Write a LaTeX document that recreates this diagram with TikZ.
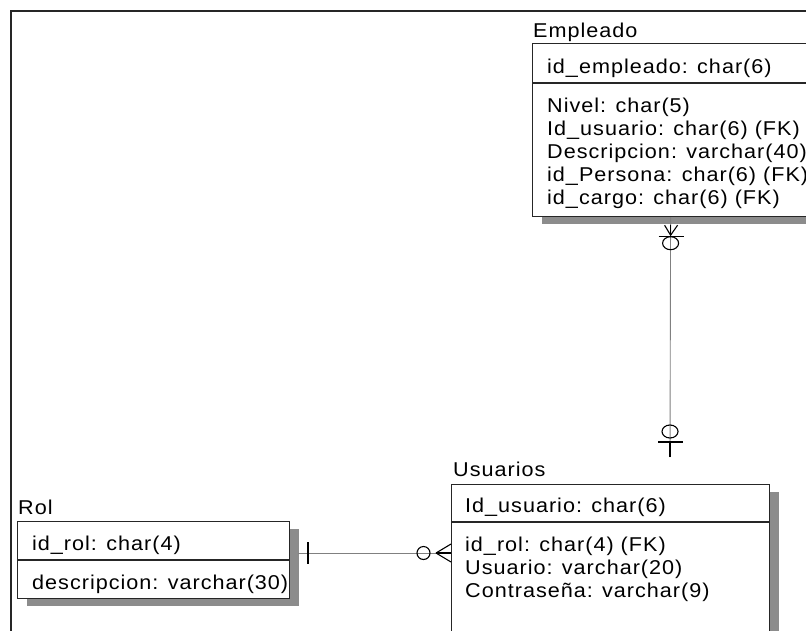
\documentclass[tikz,border=0pt]{standalone}
\usepackage{fontspec}
\setmainfont{Liberation Sans}[FakeStretch=1.08,LetterSpace=5]
\usetikzlibrary{shadows,calc}
\begin{document}
\begin{tikzpicture}[x=1pt,y=-1pt,
  frameline/.style={draw=black!85, line width=1.6pt},
  entity/.style={draw=black!85, line width=1.2pt, fill=white, inner sep=0pt,
    anchor=north west,
    general shadow={shadow xshift=9pt, shadow yshift=-7pt, fill=black!45}},
  divider/.style={draw=black!85, line width=1.2pt},
  txt/.style={anchor=base west, inner sep=0pt, font=\fontsize{20}{23}\selectfont},
  rel/.style={draw=black!50, line width=0.9pt},
  card/.style={draw=black, line width=1.1pt}]
\useasboundingbox (0,0) rectangle (806,630);
\fill[white] (0,0) rectangle (806,630);
\clip (0,0) rectangle (806,630);

% outer frame of the model page
\draw[frameline] (11,650) -- (11,11) -- (830,11);

% ---------------- Empleado ----------------
\node[txt] (empT) at (533,37) {Empleado};
\node[entity, minimum width=276pt, minimum height=173pt] (emp) at (532,43) {};
\coordinate (empDiv) at (0,83);
\draw[divider] (emp.west |- empDiv) -- (emp.east |- empDiv);
\begin{scope}
  \clip (emp.north west) rectangle (emp.south east);
  \node[txt] (empK) at (547,73) {id\_empleado: char(6)};
  \node[txt] (empA1) at (547,112) {Nivel: char(5)};
  \node[txt] (empA2) at (547,135) {Id\_usuario: char(6) (FK)};
  \node[txt] (empA3) at (547,158) {Descripcion: varchar(40)};
  \node[txt] (empA4) at (547,181) {id\_Persona: char(6) (FK)};
  \node[txt] (empA5) at (547,204) {id\_cargo: char(6) (FK)};
\end{scope}

% ---------------- Usuarios ----------------
\node[txt] (usuT) at (453,476) {Usuarios};
\node[entity, minimum width=318pt, minimum height=160pt] (usu) at (451,484) {};
\coordinate (usuDiv) at (0,522);
\draw[divider] (usu.west |- usuDiv) -- (usu.east |- usuDiv);
\node[txt] (usuK) at (465,512) {Id\_usuario: char(6)};
\node[txt] (usuA1) at (465,551) {id\_rol: char(4) (FK)};
\node[txt] (usuA2) at (465,574) {Usuario: varchar(20)};
\node[txt] (usuA3) at (465,597) {Contraseña: varchar(9)};

% ---------------- Rol ----------------
\node[txt] (rolT) at (18,514) {Rol};
\node[entity, minimum width=272pt, minimum height=77pt] (rol) at (17,521) {};
\coordinate (rolDiv) at (0,560);
\draw[divider] (rol.west |- rolDiv) -- (rol.east |- rolDiv);
\begin{scope}
  \clip (rol.north west) rectangle (rol.south east);
  \node[txt] (rolK) at (32,550) {id\_rol: char(4)};
  \node[txt] (rolA1) at (32,589) {descripcion: varchar(30)};
\end{scope}

% ---------------- Empleado -- Usuarios ----------------
\coordinate (usuLink) at (670,457);
\draw[rel] (emp.south) -- (usuLink);
\begin{scope}[shift={(emp.south)}]
  \draw[card] (-6,8) -- (0,18) -- (7,8);
  \draw[card] (0,8) -- (0,18);
  \draw[card] (-12,19) -- (13,19);
  \draw[card] (0,26) ellipse [x radius=8, y radius=6.5];
\end{scope}
\begin{scope}[shift={(usuLink)}]
  \draw[card] (0,-25.5) ellipse [x radius=8, y radius=6.5];
  \draw[card] (-12,-15) -- (13,-15);
  \draw[card] (0,-15) -- (0,0);
\end{scope}

% ---------------- Rol -- Usuarios ----------------
\coordinate (rolLink) at (298,553);
\coordinate (usuIn) at (usu.west |- rolLink);
\draw[rel] (rolLink) -- (usuIn);
\draw[card] (308,542) -- (308,564);
\draw[card] (423.5,553) ellipse [x radius=6.5, y radius=6.5];
\draw[card] (436,553) -- (usuIn);
\draw[card] (436,553) -- ($(usuIn)+(0,-9)$);
\draw[card] (436,553) -- ($(usuIn)+(0,9)$);
\end{tikzpicture}
\end{document}
